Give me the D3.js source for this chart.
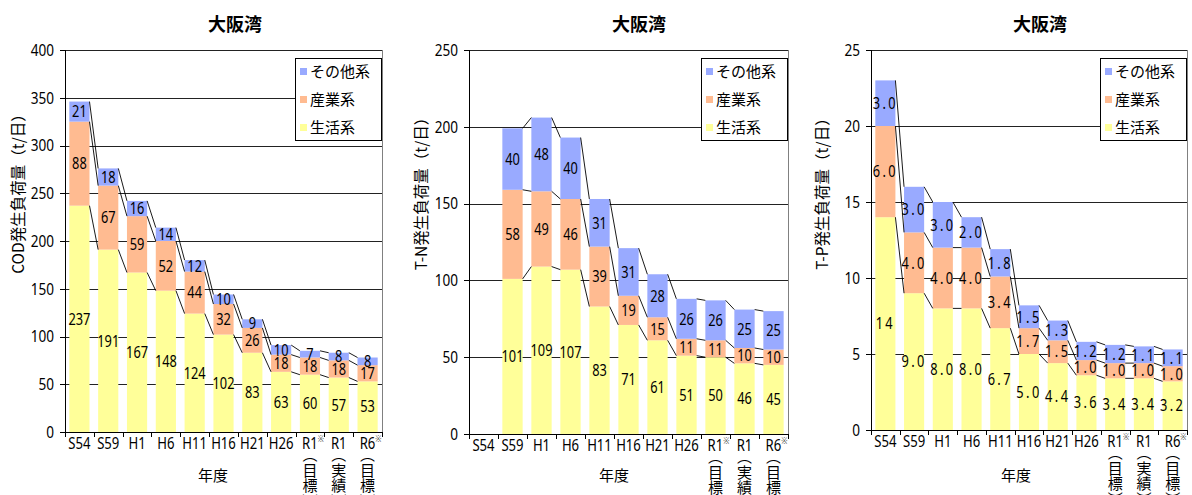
<!DOCTYPE html>
<html>
<head>
<meta charset="utf-8">
<script src="https://cdn.jsdelivr.net/npm/d3@7"></script>
<style>
  body { margin: 0; background: #fff; }
  svg text { font-family: "Noto Sans", "Noto Sans CJK JP", sans-serif; fill: #000; }
  svg text.jp { font-family: "Noto Sans CJK JP", sans-serif; }
</style>
</head>
<body>
<svg id="chart" width="1192" height="495"></svg>
<script>
// Survey years (x categories)
const years = ["S54", "S59", "H1", "H6", "H11", "H16", "H21", "H26", "R1", "R1", "R6"];
const yearNotes = ["", "", "", "", "", "", "", "", "※", "", "※"];
const yearSubs = ["", "", "", "", "", "", "", "", "目標", "実績", "目標"];

// Series names, bottom to top
const seriesNames = ["生活系", "産業系", "その他系"];
const seriesColors = ["#ffff99", "#ffbb91", "#99aaff"];

// COD load (t/day)
const codLiving   = [237, 191, 167, 148, 124, 102, 83, 63, 60, 57, 53];
const codIndustry = [88, 67, 59, 52, 44, 32, 26, 18, 18, 18, 17];
const codOther    = [21, 18, 16, 14, 12, 10, 9, 10, 7, 8, 8];
const codTicks    = [0, 50, 100, 150, 200, 250, 300, 350, 400];

// T-N load (t/day); no S54 value
const tnLiving   = [null, 101, 109, 107, 83, 71, 61, 51, 50, 46, 45];
const tnIndustry = [null, 58, 49, 46, 39, 19, 15, 11, 11, 10, 10];
const tnOther    = [null, 40, 48, 40, 31, 31, 28, 26, 26, 25, 25];
const tnTicks    = [0, 50, 100, 150, 200, 250];

// T-P load (t/day)
const tpLiving   = [14, 9.0, 8.0, 8.0, 6.7, 5.0, 4.4, 3.6, 3.4, 3.4, 3.2];
const tpIndustry = [6.0, 4.0, 4.0, 4.0, 3.4, 1.7, 1.5, 1.0, 1.0, 1.0, 1.0];
const tpOther    = [3.0, 3.0, 3.0, 2.0, 1.8, 1.5, 1.3, 1.2, 1.2, 1.1, 1.1];
const tpTicks    = [0, 5, 10, 15, 20, 25];

const svg = d3.select("#chart");

const panels = [
  { x0: 65, x1: 382, y0: 50, y1: 432, ticks: codTicks, series: [codLiving, codIndustry, codOther],
    yTitle: "COD発生負荷量（t/日）", yTitleX: 18, titleX: 235, xTitleX: 213,
    fmt: d3.format("d"), spacing: 0 },
  { x0: 469, x1: 788, y0: 50, y1: 434, ticks: tnTicks, series: [tnLiving, tnIndustry, tnOther],
    yTitle: "T-N発生負荷量（t/日）", yTitleX: 421, titleX: 639, xTitleX: 614,
    fmt: d3.format("d"), spacing: 0 },
  { x0: 871, x1: 1187, y0: 50, y1: 430, ticks: tpTicks, series: [tpLiving, tpIndustry, tpOther],
    yTitle: "T-P発生負荷量（t/日）", yTitleX: 822, titleX: 1040, xTitleX: 1016,
    fmt: v => v >= 10 ? d3.format("d")(v) : d3.format(".1f")(v), spacing: 3 }
];

// Horizontally condensed text, anchored at (x, y)
function narrow(sel, x, y, size, sx) {
  return sel.attr("transform", `translate(${x},${y}) scale(${sx},1)`)
    .attr("font-size", size);
}

panels.forEach(drawPanel);

function drawPanel(p) {
  const g = svg.append("g");
  const n = years.length;

  const x = d3.scaleBand().domain(d3.range(n)).range([p.x0, p.x1])
    .paddingInner(0.3).paddingOuter(0.15);
  const y = d3.scaleLinear().domain([0, d3.max(p.ticks)]).range([p.y1, p.y0]);
  const step = (p.x1 - p.x0) / n;

  // Horizontal gridlines
  g.append("g").selectAll("line").data(p.ticks.slice(1)).join("line")
    .attr("x1", p.x0).attr("x2", p.x1)
    .attr("y1", d => Math.round(y(d)) + 0.5).attr("y2", d => Math.round(y(d)) + 0.5)
    .attr("stroke", "#222").attr("stroke-width", 1);

  // Right-hand frame of the plot area
  g.append("line")
    .attr("x1", p.x1 + 0.5).attr("x2", p.x1 + 0.5).attr("y1", p.y0).attr("y2", p.y1)
    .attr("stroke", "#808080");

  // Stacked segment tops
  const tops = p.series.map((s, k) => s.map((v, i) =>
    v == null ? null : d3.sum(p.series.slice(0, k + 1), t => t[i])));

  // Bars
  p.series.forEach((s, k) => {
    g.append("g").selectAll("rect").data(s.map((v, i) => ({ v, i })).filter(d => d.v != null))
      .join("rect")
      .attr("x", d => x(d.i)).attr("width", x.bandwidth())
      .attr("y", d => y(tops[k][d.i]))
      .attr("height", d => y(tops[k][d.i] - d.v) - y(tops[k][d.i]))
      .attr("fill", seriesColors[k]);
  });

  // Series lines joining segment tops of neighbouring bars
  tops.forEach(t => {
    const segs = d3.range(n - 1).filter(i => t[i] != null && t[i + 1] != null);
    g.append("g").selectAll("line").data(segs).join("line")
      .attr("x1", i => x(i) + x.bandwidth()).attr("y1", i => y(t[i]))
      .attr("x2", i => x(i + 1)).attr("y2", i => y(t[i + 1]))
      .attr("stroke", "#000").attr("stroke-width", 0.9);
  });

  // Value labels
  p.series.forEach((s, k) => {
    g.append("g").selectAll("text").data(s.map((v, i) => ({ v, i })).filter(d => d.v != null))
      .join("text")
      .each(function (d) {
        narrow(d3.select(this), x(d.i) + x.bandwidth() / 2, y(tops[k][d.i] - d.v / 2), 16, 0.8);
      })
      .attr("dy", "0.36em")
      .attr("text-anchor", "middle")
      .attr("letter-spacing", p.spacing)
      .text(d => p.fmt(d.v));
  });

  // Left axis
  const ya = g.append("g");
  ya.append("line").attr("x1", p.x0 + 0.5).attr("x2", p.x0 + 0.5)
    .attr("y1", p.y0).attr("y2", p.y1 + 1).attr("stroke", "#000");
  ya.selectAll("line.tk").data(p.ticks).join("line").attr("class", "tk")
    .attr("x1", p.x0 - 5).attr("x2", p.x0)
    .attr("y1", d => Math.round(y(d)) + 0.5).attr("y2", d => Math.round(y(d)) + 0.5)
    .attr("stroke", "#000");
  ya.selectAll("text").data(p.ticks).join("text")
    .each(function (d) { narrow(d3.select(this), p.x0 - 11, y(d), 16, 0.85); })
    .attr("dy", "0.36em").attr("text-anchor", "end")
    .text(d => d);

  // Bottom axis with ticks at the category boundaries
  const xb = g.append("g");
  xb.append("line").attr("x1", p.x0).attr("x2", p.x1 + 1)
    .attr("y1", p.y1 + 0.5).attr("y2", p.y1 + 0.5).attr("stroke", "#000");
  xb.selectAll("line.tk").data(d3.range(n + 1)).join("line").attr("class", "tk")
    .attr("x1", i => Math.round(p.x0 + i * step) + 0.5).attr("x2", i => Math.round(p.x0 + i * step) + 0.5)
    .attr("y1", p.y1).attr("y2", p.y1 + 5).attr("stroke", "#000");

  // Category labels
  const cat = xb.selectAll("g.cat").data(d3.range(n)).join("g").attr("class", "cat")
    .attr("transform", i => `translate(${x(i) + x.bandwidth() / 2},0)`);
  const lbl = cat.append("text")
    .each(function (i) { narrow(d3.select(this), yearNotes[i] ? 3 : 0, p.y1 + 17, 16, 0.82); })
    .attr("text-anchor", "middle");
  lbl.append("tspan").text(i => years[i]);
  lbl.append("tspan").attr("font-size", 9).attr("dy", -7).attr("fill", "#444").text(i => yearNotes[i]);
  cat.filter(i => yearSubs[i]).each(function (i) {
    const c = d3.select(this);
    const chars = ["︵", ...yearSubs[i].split(""), "︶"];
    chars.forEach((ch, j) => {
      c.append("text").attr("class", "jp")
        .attr("x", 0)
        .attr("y", p.y1 + 28 + j * 15.5).attr("text-anchor", "middle")
        .attr("font-size", 15).text(ch);
    });
  });

  // Axis titles and panel title
  g.append("text").attr("class", "jp").attr("x", p.xTitleX).attr("y", 481)
    .attr("text-anchor", "middle").attr("font-size", 15).text("年度");
  g.append("text").attr("class", "jp")
    .attr("transform", `translate(${p.yTitleX + 6},${190}) rotate(-90)`)
    .attr("text-anchor", "middle").attr("font-size", 15.5).text(p.yTitle);
  g.append("text").attr("class", "jp").attr("x", p.titleX).attr("y", 31)
    .attr("text-anchor", "middle").attr("font-size", 18).attr("font-weight", "bold").text("大阪湾");

  // Legend, top series first
  const lx = p.x1 - 87, ly = 58;
  const lg = g.append("g").attr("transform", `translate(${lx},${ly})`);
  lg.append("rect").attr("x", 0.5).attr("y", 0.5).attr("width", 86).attr("height", 82)
    .attr("fill", "#fff").attr("stroke", "#000");
  [2, 1, 0].forEach((k, j) => {
    lg.append("rect").attr("x", 5).attr("y", 10 + j * 28).attr("width", 7).attr("height", 7)
      .attr("fill", seriesColors[k]);
    lg.append("text").attr("class", "jp").attr("x", 15).attr("y", 14 + j * 28).attr("dy", "0.36em")
      .attr("font-size", 15).text(seriesNames[k]);
  });
}
</script>
</body>
</html>
